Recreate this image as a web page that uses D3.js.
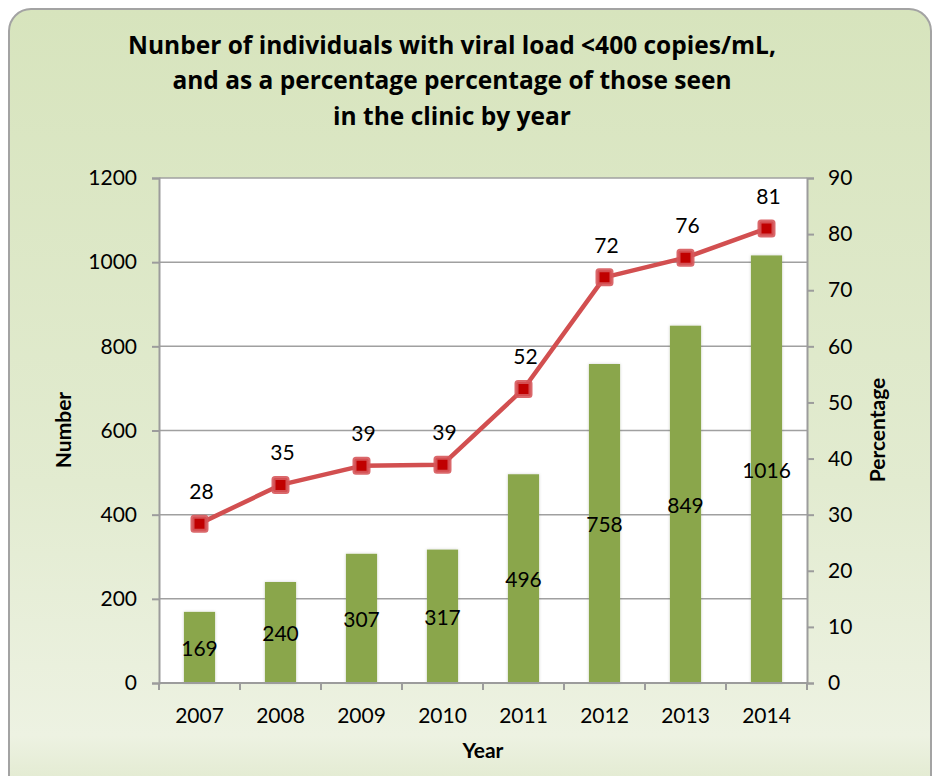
<!DOCTYPE html>
<html>
<head>
<meta charset="utf-8">
<script src="https://cdn.jsdelivr.net/npm/d3@7"></script>
<style>
  html, body { margin: 0; padding: 0; background: #ffffff; }
</style>
</head>
<body>
<svg id="chart" width="933" height="776" font-family="Lato, 'Open Sans', sans-serif"></svg>
<script>
const years = ["2007", "2008", "2009", "2010", "2011", "2012", "2013", "2014"];
const numbers = [169, 240, 307, 317, 496, 758, 849, 1016];
const percentages = [28.4, 35.3, 38.7, 38.9, 52.4, 72.3, 75.8, 81.0];
const leftTicks = [0, 200, 400, 600, 800, 1000, 1200];
const rightTicks = [0, 10, 20, 30, 40, 50, 60, 70, 80, 90];
const titleLines = [
  "Nunber of individuals with viral load <400 copies/mL,",
  "and as a percentage percentage of those seen",
  "in the clinic by year"
];

const svg = d3.select("#chart");
const plot = { left: 159, right: 807, top: 178, bottom: 683 };
const FS = 21;

// background
const defs = svg.append("defs");
const grad = defs.append("linearGradient").attr("id", "bg").attr("x1", 0).attr("y1", 0).attr("x2", 0).attr("y2", 1);
grad.append("stop").attr("offset", "0%").attr("stop-color", "#d7e4bd");
grad.append("stop").attr("offset", "60%").attr("stop-color", "#e2ebd0");
grad.append("stop").attr("offset", "92%").attr("stop-color", "#edf2e2");
grad.append("stop").attr("offset", "100%").attr("stop-color", "#dfe8cb");
const shadow = defs.append("filter").attr("id", "barShadow").attr("x", "-30%").attr("y", "-10%").attr("width", "160%").attr("height", "120%");
shadow.append("feDropShadow").attr("dx", 0).attr("dy", 0).attr("stdDeviation", 1.5).attr("flood-color", "#000").attr("flood-opacity", 0.18);

svg.append("rect").attr("x", 9).attr("y", 9).attr("width", 922).attr("height", 790)
  .attr("rx", 22).attr("ry", 22)
  .attr("fill", "url(#bg)").attr("stroke", "#a3a3a3").attr("stroke-width", 2);

// plot area
svg.append("rect").attr("x", plot.left).attr("y", plot.top)
  .attr("width", plot.right - plot.left).attr("height", plot.bottom - plot.top)
  .attr("fill", "#ffffff");

const x = d3.scaleBand().domain(years).range([plot.left, plot.right]).paddingInner(0).paddingOuter(0);
const yL = d3.scaleLinear().domain([0, 1200]).range([plot.bottom, plot.top]);
const yR = d3.scaleLinear().domain([0, 90]).range([plot.bottom, plot.top]);

// gridlines
svg.append("g").selectAll("line").data(leftTicks.filter(d => d > 0)).join("line")
  .attr("x1", plot.left).attr("x2", plot.right)
  .attr("y1", d => yL(d)).attr("y2", d => yL(d))
  .attr("stroke", "#a0a0a0").attr("stroke-width", 1.5);

// bars
const bw = x.bandwidth() * 0.385;
svg.append("g").selectAll("rect").data(numbers).join("rect")
  .attr("x", (d, i) => x(years[i]) + x.bandwidth() / 2 - bw / 2)
  .attr("y", d => yL(d))
  .attr("width", bw)
  .attr("height", d => yL(0) - yL(d))
  .attr("fill", "#8aa64b")
  .attr("filter", "url(#barShadow)");

// axes
const axisColor = "#9c9c9c";
const gL = svg.append("g").attr("transform", `translate(${plot.left},0)`)
  .call(d3.axisLeft(yL).tickValues(leftTicks).tickSize(7).tickPadding(15).tickFormat(d3.format("d")));
const gR = svg.append("g").attr("transform", `translate(${plot.right},0)`)
  .call(d3.axisRight(yR).tickValues(rightTicks).tickSize(7).tickPadding(14).tickFormat(d3.format("d")));
const gX = svg.append("g").attr("transform", `translate(0,${plot.bottom})`)
  .call(d3.axisBottom(x).tickSize(0).tickPadding(25));
[gL, gR, gX].forEach(g => {
  g.attr("font-family", null).attr("font-size", null);
  g.select(".domain").attr("stroke", axisColor).attr("stroke-width", 2);
  g.selectAll(".tick line").attr("stroke", axisColor).attr("stroke-width", 2);
  g.selectAll(".tick text").attr("font-size", FS).attr("fill", "#000");
});
gX.select(".domain").attr("d", `M${plot.left},0H${plot.right}`);
// category boundary ticks
svg.append("g").selectAll("line").data(years.concat(["end"])).join("line")
  .attr("x1", (d, i) => plot.left + i * x.bandwidth())
  .attr("x2", (d, i) => plot.left + i * x.bandwidth())
  .attr("y1", plot.bottom).attr("y2", plot.bottom + 7)
  .attr("stroke", axisColor).attr("stroke-width", 2);

// bar labels
svg.append("g").selectAll("text").data(numbers).join("text")
  .attr("x", (d, i) => x(years[i]) + x.bandwidth() / 2)
  .attr("y", d => (yL(d) + yL(0)) / 2 + 3)
  .attr("text-anchor", "middle").attr("dominant-baseline", "middle")
  .attr("font-size", FS)
  .text(d => d);

// line
const line = d3.line().x((d, i) => x(years[i]) + x.bandwidth() / 2).y(d => yR(d));
svg.append("path").datum(percentages).attr("d", line)
  .attr("fill", "none").attr("stroke", "#d24f50").attr("stroke-width", 4.5)
  .attr("stroke-linejoin", "round");

// markers
const ms = 14;
svg.append("g").selectAll("rect").data(percentages).join("rect")
  .attr("x", (d, i) => x(years[i]) + x.bandwidth() / 2 - ms / 2)
  .attr("y", d => yR(d) - ms / 2)
  .attr("width", ms).attr("height", ms)
  .attr("rx", 1.5)
  .attr("fill", "#c00000")
  .attr("stroke", "#d6585b").attr("stroke-width", 4).attr("stroke-opacity", 0.9);

// percentage labels
svg.append("g").selectAll("text").data(percentages).join("text")
  .attr("x", (d, i) => x(years[i]) + x.bandwidth() / 2 + 2)
  .attr("y", d => yR(d) - 30)
  .attr("text-anchor", "middle").attr("dominant-baseline", "middle")
  .attr("font-size", FS)
  .text(d => Math.round(d));

// title
svg.append("g").selectAll("text").data(titleLines).join("text")
  .attr("x", 452).attr("y", (d, i) => 47 + i * 35.5)
  .attr("text-anchor", "middle").attr("dominant-baseline", "middle")
  .attr("font-family", "'Open Sans', Lato, sans-serif")
  .attr("font-size", 24.5).attr("font-weight", "bold")
  .text(d => d);

// axis titles
svg.append("text").attr("x", 483).attr("y", 753)
  .attr("text-anchor", "middle").attr("dominant-baseline", "middle")
  .attr("font-size", FS).attr("font-weight", "bold").text("Year");
svg.append("text").attr("transform", "translate(66,430) rotate(-90)")
  .attr("text-anchor", "middle").attr("dominant-baseline", "middle")
  .attr("font-size", FS).attr("font-weight", "bold").text("Number");
svg.append("text").attr("transform", "translate(880,430) rotate(-90)")
  .attr("text-anchor", "middle").attr("dominant-baseline", "middle")
  .attr("font-size", FS).attr("font-weight", "bold").text("Percentage");
</script>
</body>
</html>
